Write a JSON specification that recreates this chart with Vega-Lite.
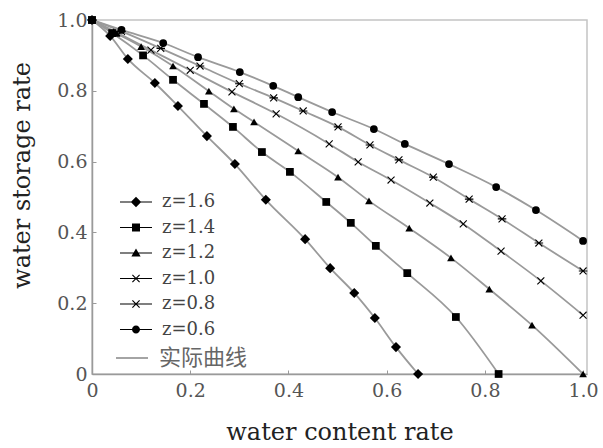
{
  "$schema": "https://vega.github.io/schema/vega-lite/v6.json",
  "width": 495,
  "height": 354,
  "autosize": {"type": "none"},
  "padding": {"left": 92, "top": 20, "right": 16, "bottom": 74},
  "background": "white",
  "config": {
    "font": "DejaVu Serif",
    "view": {"stroke": "#c4c4c4", "strokeWidth": 1.5},
    "axis": {
      "grid": false,
      "domainColor": "#9a9a9a",
      "domainWidth": 1.5,
      "tickColor": "#9a9a9a",
      "tickSize": -4,
      "tickWidth": 1,
      "labelFlush": false,
      "labelFont": "DejaVu Serif",
      "labelFontSize": 19,
      "labelColor": "#555555",
      "titleFont": "DejaVu Serif",
      "titleFontSize": 24,
      "titleFontWeight": "normal",
      "titleColor": "#222222"
    },
    "legend": {"padding": 0}
  },
  "data": {
    "values": [
      {"s": "z=1.6", "x": 0, "y": 1},
      {"s": "z=1.6", "x": 0.037, "y": 0.955},
      {"s": "z=1.6", "x": 0.073, "y": 0.89},
      {"s": "z=1.6", "x": 0.128, "y": 0.822},
      {"s": "z=1.6", "x": 0.175, "y": 0.757},
      {"s": "z=1.6", "x": 0.234, "y": 0.672},
      {"s": "z=1.6", "x": 0.291, "y": 0.593},
      {"s": "z=1.6", "x": 0.354, "y": 0.492},
      {"s": "z=1.6", "x": 0.434, "y": 0.381},
      {"s": "z=1.6", "x": 0.485, "y": 0.299},
      {"s": "z=1.6", "x": 0.534, "y": 0.229},
      {"s": "z=1.6", "x": 0.576, "y": 0.158},
      {"s": "z=1.6", "x": 0.619, "y": 0.076},
      {"s": "z=1.6", "x": 0.664, "y": 0.0},
      {"s": "z=1.4", "x": 0, "y": 1},
      {"s": "z=1.4", "x": 0.041, "y": 0.963},
      {"s": "z=1.4", "x": 0.104, "y": 0.9},
      {"s": "z=1.4", "x": 0.165, "y": 0.831},
      {"s": "z=1.4", "x": 0.228, "y": 0.763},
      {"s": "z=1.4", "x": 0.287, "y": 0.698},
      {"s": "z=1.4", "x": 0.346, "y": 0.627},
      {"s": "z=1.4", "x": 0.403, "y": 0.571},
      {"s": "z=1.4", "x": 0.477, "y": 0.486},
      {"s": "z=1.4", "x": 0.527, "y": 0.427},
      {"s": "z=1.4", "x": 0.578, "y": 0.362},
      {"s": "z=1.4", "x": 0.642, "y": 0.285},
      {"s": "z=1.4", "x": 0.741, "y": 0.161},
      {"s": "z=1.4", "x": 0.828, "y": 0.0},
      {"s": "z=1.2", "x": 0, "y": 1},
      {"s": "z=1.2", "x": 0.05, "y": 0.962},
      {"s": "z=1.2", "x": 0.1, "y": 0.925},
      {"s": "z=1.2", "x": 0.165, "y": 0.87},
      {"s": "z=1.2", "x": 0.238, "y": 0.799},
      {"s": "z=1.2", "x": 0.289, "y": 0.749},
      {"s": "z=1.2", "x": 0.33, "y": 0.712},
      {"s": "z=1.2", "x": 0.42, "y": 0.63},
      {"s": "z=1.2", "x": 0.501, "y": 0.556},
      {"s": "z=1.2", "x": 0.564, "y": 0.489},
      {"s": "z=1.2", "x": 0.646, "y": 0.412},
      {"s": "z=1.2", "x": 0.731, "y": 0.328},
      {"s": "z=1.2", "x": 0.809, "y": 0.24},
      {"s": "z=1.2", "x": 0.896, "y": 0.138},
      {"s": "z=1.2", "x": 1.0, "y": 0.0},
      {"s": "z=1.0", "x": 0, "y": 1},
      {"s": "z=1.0", "x": 0.05, "y": 0.965},
      {"s": "z=1.0", "x": 0.12, "y": 0.915},
      {"s": "z=1.0", "x": 0.2, "y": 0.858},
      {"s": "z=1.0", "x": 0.285, "y": 0.797},
      {"s": "z=1.0", "x": 0.375, "y": 0.735},
      {"s": "z=1.0", "x": 0.483, "y": 0.65},
      {"s": "z=1.0", "x": 0.542, "y": 0.599},
      {"s": "z=1.0", "x": 0.609, "y": 0.548},
      {"s": "z=1.0", "x": 0.688, "y": 0.483},
      {"s": "z=1.0", "x": 0.756, "y": 0.424},
      {"s": "z=1.0", "x": 0.833, "y": 0.347},
      {"s": "z=1.0", "x": 0.914, "y": 0.263},
      {"s": "z=1.0", "x": 1.0, "y": 0.166},
      {"s": "z=0.8", "x": 0, "y": 1},
      {"s": "z=0.8", "x": 0.06, "y": 0.968},
      {"s": "z=0.8", "x": 0.14, "y": 0.92},
      {"s": "z=0.8", "x": 0.22, "y": 0.87},
      {"s": "z=0.8", "x": 0.3, "y": 0.82},
      {"s": "z=0.8", "x": 0.37, "y": 0.78},
      {"s": "z=0.8", "x": 0.43, "y": 0.743},
      {"s": "z=0.8", "x": 0.501, "y": 0.698},
      {"s": "z=0.8", "x": 0.566, "y": 0.647},
      {"s": "z=0.8", "x": 0.625, "y": 0.605},
      {"s": "z=0.8", "x": 0.695, "y": 0.556},
      {"s": "z=0.8", "x": 0.768, "y": 0.494},
      {"s": "z=0.8", "x": 0.835, "y": 0.438},
      {"s": "z=0.8", "x": 0.91, "y": 0.37},
      {"s": "z=0.8", "x": 1.0, "y": 0.291},
      {"s": "z=0.6", "x": 0, "y": 1},
      {"s": "z=0.6", "x": 0.06, "y": 0.972},
      {"s": "z=0.6", "x": 0.145, "y": 0.935},
      {"s": "z=0.6", "x": 0.216, "y": 0.895},
      {"s": "z=0.6", "x": 0.301, "y": 0.853},
      {"s": "z=0.6", "x": 0.369, "y": 0.814},
      {"s": "z=0.6", "x": 0.42, "y": 0.782},
      {"s": "z=0.6", "x": 0.489, "y": 0.74},
      {"s": "z=0.6", "x": 0.574, "y": 0.692},
      {"s": "z=0.6", "x": 0.637, "y": 0.65},
      {"s": "z=0.6", "x": 0.727, "y": 0.593},
      {"s": "z=0.6", "x": 0.823, "y": 0.528},
      {"s": "z=0.6", "x": 0.904, "y": 0.463},
      {"s": "z=0.6", "x": 1.0, "y": 0.376}
    ]
  },
  "encoding": {
    "x": {
      "field": "x",
      "type": "quantitative",
      "scale": {"domain": [0, 1.008], "nice": false, "zero": false},
      "axis": {
        "title": "water content rate",
        "values": [0, 0.2, 0.4, 0.6, 0.8, 1.0],
        "labelExpr": "datum.value == 0 ? '0' : format(datum.value, '.1f')",
        "labelPadding": 11,
        "titlePadding": 20
      }
    },
    "y": {
      "field": "y",
      "type": "quantitative",
      "scale": {"domain": [0, 1], "nice": false},
      "axis": {
        "title": "water storage rate",
        "values": [0, 0.2, 0.4, 0.6, 0.8, 1.0],
        "labelExpr": "datum.value == 0 ? '0' : format(datum.value, '.1f')",
        "labelPadding": 9,
        "titleX": -70,
        "titleY": 155,
        "titleBaseline": "middle"
      }
    }
  },
  "resolve": {"scale": {"shape": "independent"}, "legend": {"shape": "independent"}},
  "layer": [
    {
      "mark": {"type": "line", "strokeWidth": 1.8, "interpolate": "monotone"},
      "encoding": {
        "detail": {"field": "s", "type": "nominal"},
        "color": {
          "datum": "实际曲线",
          "scale": {"range": ["#9a9a9a"]},
          "legend": {
            "title": null,
            "orient": "none",
            "legendX": 23,
            "legendY": 321,
            "symbolType": "stroke",
            "symbolSize": 1024,
            "symbolStrokeWidth": 1.8,
            "labelFont": "Noto Sans CJK SC",
            "labelFontSize": 22,
            "labelColor": "#666666",
            "labelOffset": 10
          }
        }
      }
    },
    {
      "mark": {"type": "point", "filled": true, "fill": "black", "opacity": 1, "size": 60},
      "encoding": {
        "shape": {
          "field": "s",
          "type": "nominal",
          "scale": {
            "domain": ["z=1.6", "z=1.4", "z=1.2", "z=1.0", "z=0.8", "z=0.6"],
            "range": [
              "M0,-1.3L1.3,0L0,1.3L-1.3,0Z",
              "square",
              "triangle-up",
              "M-1,-0.8L-0.8,-1L0,-0.2L0.8,-1L1,-0.8L0.2,0L1,0.8L0.8,1L0,0.2L-0.8,1L-1,0.8L-0.2,0Z",
              "M-1,-0.8L-0.8,-1L0,-0.2L0.8,-1L1,-0.8L0.2,0L1,0.8L0.8,1L0,0.2L-0.8,1L-1,0.8L-0.2,0ZM-1.1,-0.15L1.1,-0.15L1.1,0.15L-1.1,0.15Z",
              "circle"
            ]
          },
          "legend": null
        }
      }
    },
    {
      "mark": {"type": "point", "filled": true, "fill": "black", "opacity": 1, "size": 0},
      "encoding": {
        "shape": {
          "field": "s",
          "type": "nominal",
          "scale": {
            "domain": ["z=1.6", "z=1.4", "z=1.2", "z=1.0", "z=0.8", "z=0.6"],
            "range": [
              "M-4,-0.13H4V0.13H-4ZM0,-1.3L1.3,0L0,1.3L-1.3,0Z",
              "M-4,-0.13H4V0.13H-4ZM-1,-1H1V1H-1Z",
              "M-4,-0.13H4V0.13H-4ZM0,-1.15L1.15,0.85L-1.15,0.85Z",
              "M-4,-0.13H4V0.13H-4ZM-1,-0.8L-0.8,-1L0,-0.2L0.8,-1L1,-0.8L0.2,0L1,0.8L0.8,1L0,0.2L-0.8,1L-1,0.8L-0.2,0Z",
              "M-4,-0.13H4V0.13H-4ZM-1,-0.8L-0.8,-1L0,-0.2L0.8,-1L1,-0.8L0.2,0L1,0.8L0.8,1L0,0.2L-0.8,1L-1,0.8L-0.2,0Z",
              "M-4,-0.13H4V0.13H-4ZM-1,0A1,1 0 1,1 1,0A1,1 0 1,1 -1,0Z"
            ]
          },
          "legend": {
            "title": null,
            "orient": "none",
            "legendX": 35,
            "legendY": 173,
            "symbolSize": 64,
            "symbolFillColor": "black",
            "symbolOpacity": 1,
            "labelFont": "DejaVu Serif",
            "labelFontSize": 18,
            "labelColor": "#444444",
            "labelOffset": 17,
            "rowPadding": 7.5
          }
        }
      }
    }
  ]
}
